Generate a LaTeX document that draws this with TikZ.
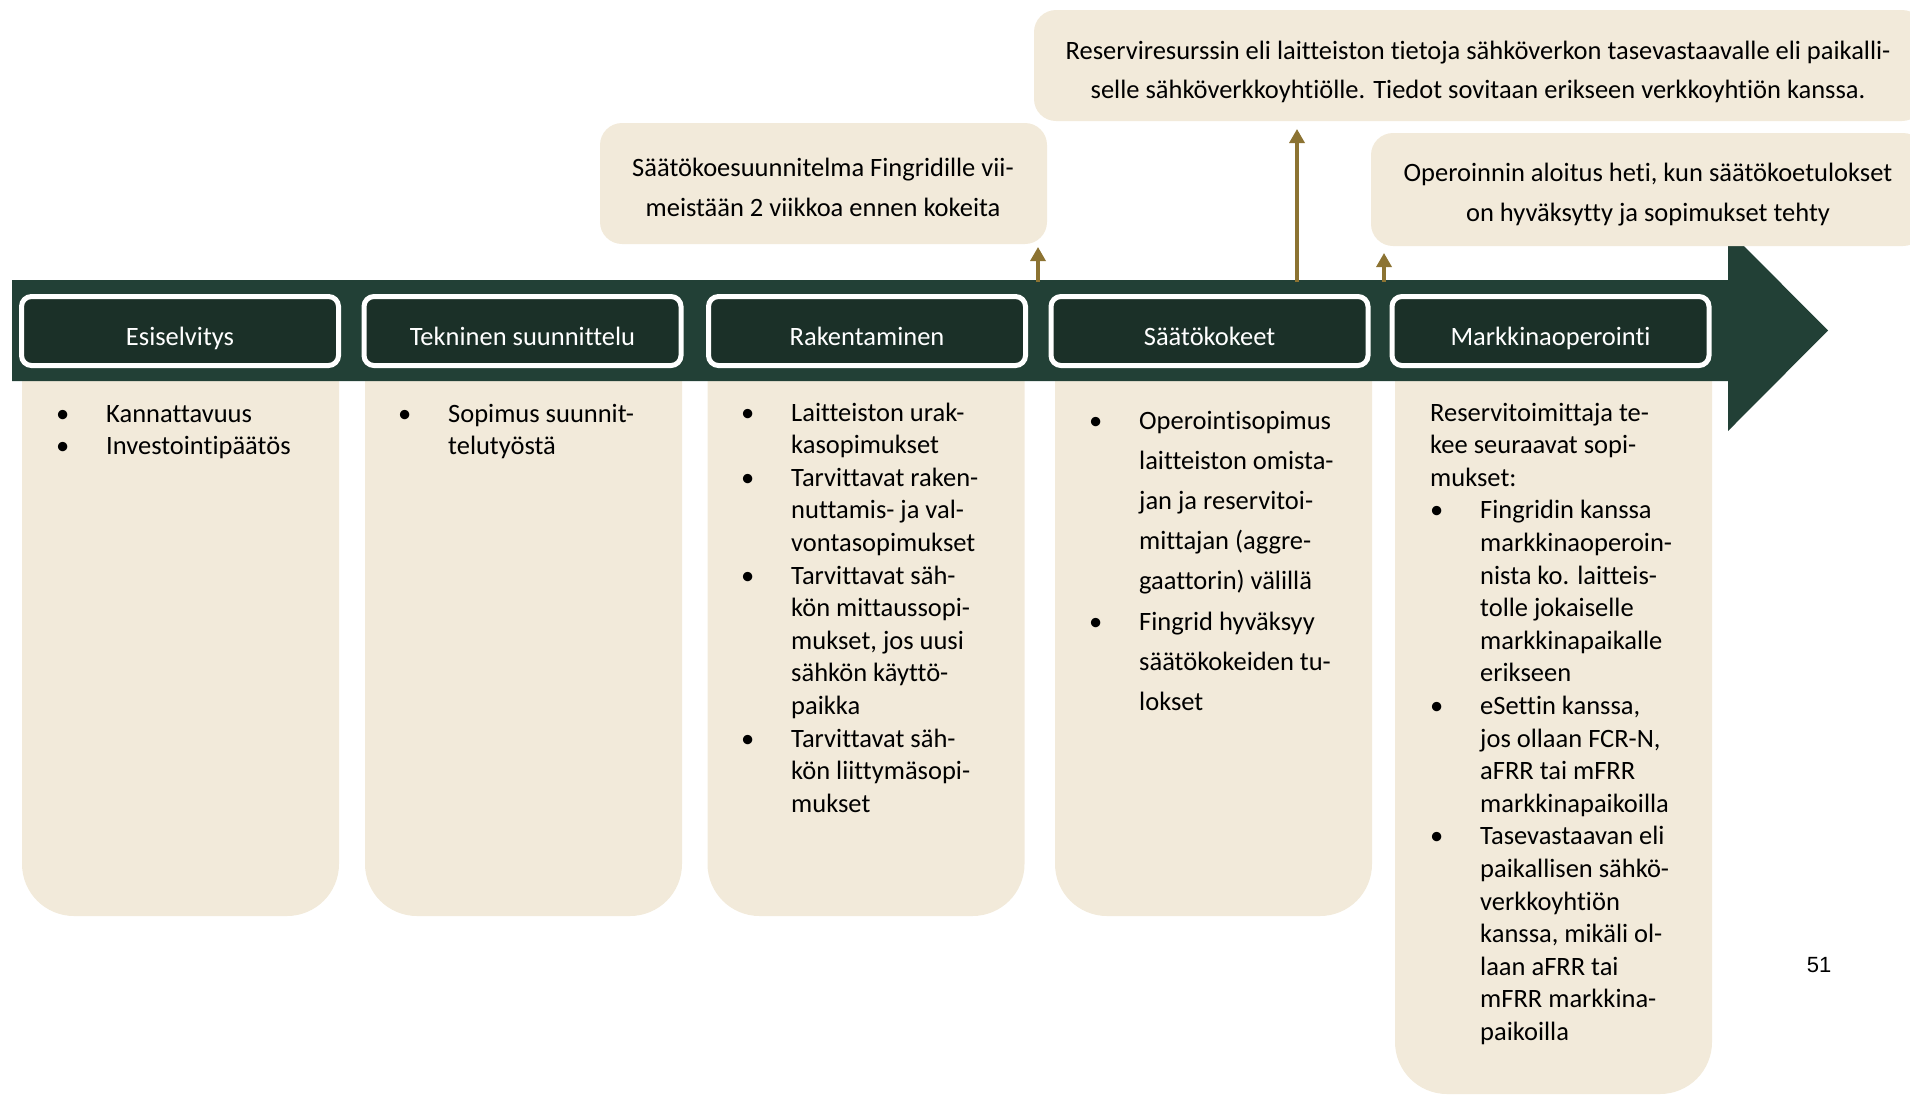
\documentclass[tikz,border=0pt]{standalone}
\usepackage{fontspec}
\setmainfont{Carlito}[Ligatures=NoCommon]
\newfontfamily\numfont{Liberation Sans}
\usetikzlibrary{arrows.meta}
\definecolor{bandgreen}{HTML}{224036}
\definecolor{hdrgreen}{HTML}{1B3028}
\definecolor{beige}{HTML}{F2EADA}
\definecolor{gold}{HTML}{8C7332}
\newcommand{\mybul}{\makebox[50pt][l]{\textbullet}}
\begin{document}
\begin{tikzpicture}[x=1pt,y=-1pt,
  hdrbox/.style={draw=white, line width=5pt, fill=hdrgreen, rounded corners=10pt,
    minimum width=317pt, minimum height=69pt, inner sep=0pt, text=white,
    text height=29pt, text depth=0pt,
    font=\fontsize{26.5}{32}\selectfont},
  colbox/.style={fill=beige, rounded corners=52pt, minimum width=317pt, inner sep=0pt},
  callbox/.style={fill=beige, rounded corners=22pt, inner sep=0pt},
  calltext/.style={inner sep=0pt, font=\fontsize{26.5}{40}\selectfont},
  coltext/.style={anchor=base west, inner sep=0pt, font=\fontsize{26.5}{32.6}\selectfont},
  goldarrow/.style={draw=gold, line width=3.3pt, -{Triangle[width=15pt,length=14pt]}}]
\useasboundingbox (0,0) rectangle (1910,1096);
\clip (0,0) rectangle (1910,1096);

% content boxes
\node[colbox, minimum height=616pt] (b1) at (180.5,608) {};
\node[colbox, minimum height=616pt] (b2) at (523.5,608) {};
\node[colbox, minimum height=616pt] (b3) at (866,608) {};
\node[colbox, minimum height=616pt] (b4) at (1213.5,608) {};
\node[colbox, minimum height=794pt] (b5) at (1553.5,697) {};

% band arrow
\fill[bandgreen] (12,280) -- (1728,280) -- (1728,230) -- (1828,330.5) -- (1728,431)
  -- (1728,381) -- (12,381) -- cycle;

% callouts
\node[callbox, minimum width=447pt, minimum height=121pt] (c1) at (823.5,183.5) {};
\node[calltext] (c1t) at (823,188.5) {\begin{tabular}{@{}c@{}}
Säätökoesuunnitelma Fingridille vii-\\meistään 2 viikkoa ennen kokeita\end{tabular}};
\node[callbox, minimum width=890pt, minimum height=111pt] (c2) at (1479,65.5) {};
\node[calltext, font=\fontsize{26.5}{39}\selectfont] (c2t) at (1478,71) {\begin{tabular}{@{}c@{}}
Reserviresurssin eli laitteiston tietoja sähköverkon tasevastaavalle eli paikalli-\\selle sähköverkkoyhtiölle. Tiedot sovitaan erikseen verkkoyhtiön kanssa.\end{tabular}};
\node[callbox, minimum width=554pt, minimum height=113pt] (c3) at (1648,189.5) {};
\node[calltext] (c3t) at (1648,193.5) {\begin{tabular}{@{}c@{}}
Operoinnin aloitus heti, kun säätökoetulokset\\on hyväksytty ja sopimukset tehty\end{tabular}};

% arrows
\coordinate (a1s) at (1038,282);
\coordinate (a2s) at (1297,282);
\coordinate (a3s) at (1384,282);
\coordinate (a1e) at (1038,247);
\coordinate (a2e) at (1297,129);
\coordinate (a3e) at (1384,253);
\draw[goldarrow] (a1s) -- (a1e);
\draw[goldarrow] (a2s) -- (a2e);
\draw[goldarrow] (a3s) -- (a3e);

% headers
\node[hdrbox] (h1) at (180,331) {Esiselvitys};
\node[hdrbox] (h2) at (522.5,331) {Tekninen suunnittelu};
\node[hdrbox] (h3) at (867,331) {Rakentaminen};
\node[hdrbox] (h4) at (1209.5,331) {Säätökokeet};
\node[hdrbox] (h5) at (1550.5,331) {Markkinaoperointi};

% column texts
\node[coltext] (t1) at (56,422) {\begin{tabular}[t]{@{}l@{}l@{}}
\mybul & Kannattavuus\\
\mybul & Investointipäätös
\end{tabular}};
\node[coltext] (t2) at (398,422) {\begin{tabular}[t]{@{}l@{}l@{}}
\mybul & Sopimus suunnit-\\
 & telutyöstä
\end{tabular}};
\node[coltext] (t3) at (741,421) {\begin{tabular}[t]{@{}l@{}l@{}}
\mybul & Laitteiston urak-\\
 & kasopimukset\\
\mybul & Tarvittavat raken-\\
 & nuttamis- ja val-\\
 & vontasopimukset\\
\mybul & Tarvittavat säh-\\
 & kön mittaussopi-\\
 & mukset, jos uusi\\
 & sähkön käyttö-\\
 & paikka\\
\mybul & Tarvittavat säh-\\
 & kön liittymäsopi-\\
 & mukset
\end{tabular}};
\node[coltext, font=\fontsize{26.5}{40.2}\selectfont] (t4) at (1089,429) {\begin{tabular}[t]{@{}l@{}l@{}}
\mybul & Operointisopimus\\
 & laitteiston omista-\\
 & jan ja reservitoi-\\
 & mittajan (aggre-\\
 & gaattorin) välillä\\
\mybul & Fingrid hyväksyy\\
 & säätökokeiden tu-\\
 & lokset
\end{tabular}};
\node[coltext] (t5) at (1430,421) {\begin{tabular}[t]{@{}l@{}l@{}}
\multicolumn{2}{@{}l@{}}{Reservitoimittaja te-}\\
\multicolumn{2}{@{}l@{}}{kee seuraavat sopi-}\\
\multicolumn{2}{@{}l@{}}{mukset:}\\
\mybul & Fingridin kanssa\\
 & markkinaoperoin-\\
 & nista ko. laitteis-\\
 & tolle jokaiselle\\
 & markkinapaikalle\\
 & erikseen\\
\mybul & eSettin kanssa,\\
 & jos ollaan FCR-N,\\
 & aFRR tai mFRR\\
 & markkinapaikoilla\\
\mybul & Tasevastaavan eli\\
 & paikallisen sähkö-\\
 & verkkoyhtiön\\
 & kanssa, mikäli ol-\\
 & laan aFRR tai\\
 & mFRR markkina-\\
 & paikoilla
\end{tabular}};

% page number
\node[font=\numfont\fontsize{22}{26}\selectfont, inner sep=0pt] (pg) at (1819,965) {51};
\end{tikzpicture}
\end{document}
